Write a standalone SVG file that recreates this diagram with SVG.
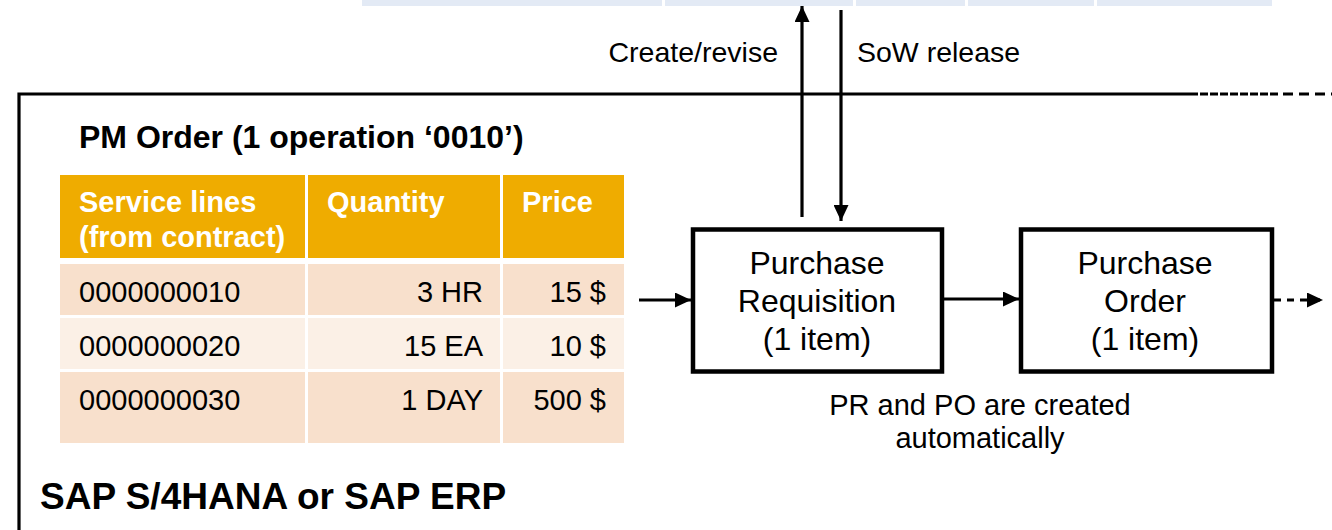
<svg xmlns="http://www.w3.org/2000/svg" width="1332" height="530" viewBox="0 0 1332 530">
<defs>
<style>
text{font-family:"Liberation Sans",Arial,sans-serif;fill:#000}
.b{font-weight:bold}
.hd{font-weight:bold;fill:#fff;font-size:29px}
.cell{font-size:29px}
.lbl{font-size:28.5px}
.cap{font-size:29px;text-anchor:middle}
.box{fill:#fff;stroke:#000;stroke-width:4.5}
.bt{font-size:32px;text-anchor:middle}
.ln{stroke:#000;stroke-width:3.2;fill:none}
.strip{fill:#e3eaf5}
</style>
<marker id="ah" viewBox="0 0 16 15" refX="16" refY="7.5" markerWidth="16" markerHeight="15" markerUnits="userSpaceOnUse" orient="auto">
<path d="M0,0 L16,7.5 L0,15 Z" fill="#000"/>
</marker>
</defs>
<rect width="1332" height="530" fill="#fff"/>
<g id="top-strip">
<rect class="strip" x="362" y="0" width="300" height="6"/>
<rect class="strip" x="665" y="0" width="188" height="6"/>
<rect class="strip" x="856" y="0" width="109" height="6"/>
<rect class="strip" x="968" y="0" width="126" height="6"/>
<rect class="strip" x="1097" y="0" width="175" height="6"/>
</g>
<g id="system-frame">
<path class="ln" d="M19,530 V94 H1190"/>
<path class="ln" d="M1190,94 H1280" stroke-dasharray="8,2"/>
<path class="ln" d="M1283,94 H1332" stroke-dasharray="10,6"/>
<text class="b" x="40" y="509" font-size="37">SAP S/4HANA or SAP ERP</text>
</g>
<g id="pm-order">
<text class="b" x="79" y="148" font-size="32">PM Order (1 operation ‘0010’)</text>
<rect x="60" y="175" width="245" height="83" fill="#efac00"/>
<rect x="308" y="175" width="192" height="83" fill="#efac00"/>
<rect x="503" y="175" width="121" height="83" fill="#efac00"/>
<text class="hd" x="79" y="212">Service lines</text>
<text class="hd" x="79" y="247">(from contract)</text>
<text class="hd" x="327" y="212">Quantity</text>
<text class="hd" x="522" y="212">Price</text>
<rect x="60" y="264" width="245" height="51" fill="#f8e0cc"/>
<rect x="308" y="264" width="192" height="51" fill="#f8e0cc"/>
<rect x="503" y="264" width="121" height="51" fill="#f8e0cc"/>
<rect x="60" y="318" width="245" height="51" fill="#fbf0e6"/>
<rect x="308" y="318" width="192" height="51" fill="#fbf0e6"/>
<rect x="503" y="318" width="121" height="51" fill="#fbf0e6"/>
<rect x="60" y="372" width="245" height="71" fill="#f8e0cc"/>
<rect x="308" y="372" width="192" height="71" fill="#f8e0cc"/>
<rect x="503" y="372" width="121" height="71" fill="#f8e0cc"/>
<text class="cell" x="79" y="302">0000000010</text>
<text class="cell" x="483" y="302" text-anchor="end">3 HR</text>
<text class="cell" x="606" y="302" text-anchor="end">15 $</text>
<text class="cell" x="79" y="356">0000000020</text>
<text class="cell" x="483" y="356" text-anchor="end">15 EA</text>
<text class="cell" x="606" y="356" text-anchor="end">10 $</text>
<text class="cell" x="79" y="410">0000000030</text>
<text class="cell" x="483" y="410" text-anchor="end">1 DAY</text>
<text class="cell" x="606" y="410" text-anchor="end">500 $</text>
</g>
<g id="purchase-requisition">
<rect class="box" x="693" y="229.5" width="249" height="142"/>
<text class="bt" x="817" y="274">Purchase</text>
<text class="bt" x="817" y="312">Requisition</text>
<text class="bt" x="817" y="350">(1 item)</text>
</g>
<g id="purchase-order">
<rect class="box" x="1021" y="229.5" width="251" height="142"/>
<text class="bt" x="1145" y="274">Purchase</text>
<text class="bt" x="1145" y="312">Order</text>
<text class="bt" x="1145" y="350">(1 item)</text>
</g>
<g id="caption">
<text class="cap" x="980" y="415">PR and PO are created</text>
<text class="cap" x="980" y="448">automatically</text>
</g>
<g id="connectors">
<line class="ln" x1="802" y1="217" x2="802" y2="6" marker-end="url(#ah)"/>
<line class="ln" x1="841" y1="10" x2="841" y2="221" marker-end="url(#ah)"/>
<text class="lbl" x="778" y="62" text-anchor="end">Create/revise</text>
<text class="lbl" x="857" y="62">SoW release</text>
<line class="ln" x1="639" y1="300" x2="691" y2="300" marker-end="url(#ah)"/>
<line class="ln" x1="944" y1="299" x2="1019" y2="299" marker-end="url(#ah)"/>
<line class="ln" x1="1274" y1="300" x2="1323" y2="300" stroke-dasharray="7,6" marker-end="url(#ah)"/>
</g>
</svg>
